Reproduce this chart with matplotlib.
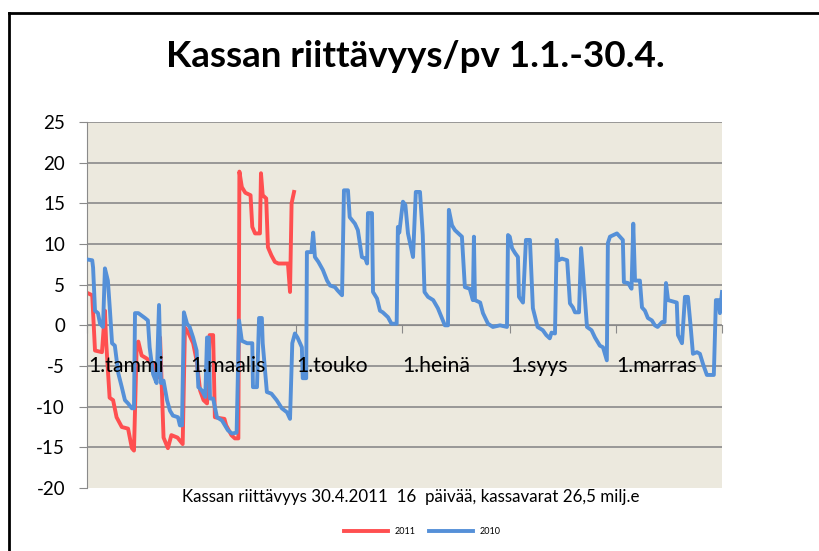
import matplotlib
matplotlib.use("Agg")
import matplotlib.pyplot as plt
from matplotlib.lines import Line2D

plt.rcParams['font.family'] = ['Lato', 'DejaVu Sans']
plt.rcParams['axes.unicode_minus'] = False

# 2011 series (day of year, value)
days_2011 = [0, 3, 4.6, 8.6, 10.3, 11, 13, 15, 17, 20, 23.6, 25.8, 27, 28.6, 29.5,
             31.4, 34.5, 36, 38, 40.8, 42, 44, 46.5, 48.5, 52, 55, 56.3, 58, 61, 63,
             65, 67, 69, 70.5, 72.5, 73.5, 76, 79, 80, 83, 85, 87, 87.6, 89, 91, 94,
             95, 96.6, 99.4, 100, 101, 103, 104, 106, 108, 110, 115.5, 116.7, 117.6, 119]
vals_2011 = [4.0, 3.7, -3.1, -3.3, 1.8, -2.0, -8.9, -9.2, -11.3, -12.5, -12.7, -15.1, -15.4, -2.2, -2.0,
             -3.7, -4.1, -4.5, -4.7, -6.4, -1.5, -13.8, -15.1, -13.5, -13.8, -14.6, -0.3, -0.8, -2.2, -4.3,
             -8.0, -9.2, -9.6, -1.2, -1.2, -11.3, -11.4, -11.5, -12.3, -13.5, -13.9, -13.9, 18.9, 17.0, 16.3, 16.0,
             12.1, 11.3, 11.3, 18.7, 16.0, 15.6, 9.6, 8.6, 7.8, 7.6, 7.6, 4.1, 15.0, 16.4]

# 2010 series (day of year, value)
days_2010 = [0, 3, 3.5, 4.6, 6.3, 7.5, 9.2, 10.3, 12, 13.2, 14.4, 16, 18, 20, 21.8, 23.6,
             25.8, 27, 27.6, 29.5, 31.4, 33.3, 35, 36, 38, 40, 41.4, 42.5, 44, 46, 47.7,
             49.4, 52.3, 53.4, 54.6, 55.7, 57.5, 59, 61, 63, 64, 66, 68, 69, 70, 70.7,
             72.5, 74.7, 77.6, 79.3, 81, 83.3, 86, 87.4, 89, 92, 95, 95.4, 97.7, 98.9,
             100.5, 101, 103.4, 106, 109, 112, 115, 116.7, 118, 119.5, 121, 123.5, 124,
             126, 126.4, 129, 130, 131, 133, 135.6, 138, 139.7, 142.5, 144, 146.6, 147.7,
             150, 151, 154, 155.7, 158, 160, 161, 161.5, 163.8, 164.4, 166.7, 168.4, 170,
             173, 175, 178, 178.7, 179.5, 181.6, 183, 184.5, 186.8, 187.4, 189, 191.4,
             193, 194, 196, 199, 201.7, 204, 205.7, 207.5, 208, 209.8, 211.5, 215.5,
             217.2, 220, 221.8, 222.4, 223, 226, 227.6, 230.5, 233.3, 237.4, 241.4, 242,
             243, 244.3, 246, 247.7, 248.3, 250.6, 252.3, 254.6, 256.3, 259, 262, 264,
             266, 267, 269, 270, 271, 273, 276, 277.6, 279.3, 280.5, 282.8, 284, 285,
             287.4, 290, 292, 294.8, 296.6, 298.8, 299.4, 300.6, 304.6, 306.3, 308, 308.6,
             311, 313, 314, 315, 317.8, 319, 320.7, 322.4, 324.7, 326.4, 328, 330.5, 332,
             332.8, 334, 339, 339.7, 342, 343.7, 345.4, 347, 348.3, 350.6, 352.3, 354,
             356.3, 360.3, 361.5, 363, 363.8, 365]
vals_2010 = [8.1, 8.0, 7.1, 1.8, 1.5, 0.2, -0.2, 7.0, 5.5, 1.8, -2.2, -2.5, -5.9, -7.6, -9.2, -9.6,
             -10.2, -10.2, 1.5, 1.5, 1.2, 0.9, 0.6, -2.7, -6.0, -7.1, 2.5, -7.1, -6.8, -9.2, -10.5,
             -11.1, -11.3, -12.3, -12.3, 1.6, 0.2, -0.2, -1.5, -3.1, -7.6, -8.0, -8.8, -1.5, -1.5, -9.0,
             -9.0, -11.3, -11.7, -12.3, -12.9, -13.3, -13.2, 0.6, -1.9, -2.2, -2.2, -7.6, -7.6, 0.9,
             0.9, -2.2, -8.2, -8.4, -9.2, -10.2, -10.7, -11.5, -2.2, -1.0, -1.5, -2.7, -6.5,
             -6.5, 9.0, 9.0, 11.4, 8.4, 7.8, 6.8, 5.5, 4.9, 4.7, 4.3, 3.7, 16.6,
             16.6, 13.3, 12.5, 11.7, 8.4, 8.2, 7.6, 13.8, 13.8, 4.1, 3.3, 1.8, 1.6,
             1.0, 0.2, 0.2, 12.1, 11.4, 15.2, 14.8, 11.3, 9.0, 8.4, 16.4, 16.4,
             11.1, 4.1, 3.5, 3.1, 2.1, 0.9, 0.0, 0.0, 14.2, 12.3, 11.7, 10.9,
             4.7, 4.5, 3.1, 10.9, 3.1, 2.8, 1.5, 0.2, -0.2, 0.0, -0.2, 11.1,
             10.9, 9.5, 8.9, 8.4, 3.5, 2.8, 10.5, 10.5, 2.1, -0.2, -0.6, -1.2,
             -1.6, -0.9, -1.0, 10.5, 8.0, 8.2, 8.0, 2.7, 2.2, 1.6, 1.6, 9.5, 6.8,
             -0.2, -0.6, -1.5, -2.5, -2.7, -4.3, 10.1, 10.9, 11.3, 10.9, 10.5, 5.3,
             5.2, 4.5, 12.5, 5.5, 5.5, 2.2, 1.8, 0.9, 0.6, 0.0, -0.2, 0.4, 0.4,
             5.2, 3.1, 2.8, -1.2, -2.2, 3.5, 3.5, -0.2, -3.5, -3.3, -3.5, -4.7,
             -6.1, -6.1, 3.1, 3.1, 1.5, 4.1]

month_days = [0, 59, 120, 181, 243, 304, 365]
month_labels = ['1.tammi', '1.maalis', '1.touko', '1.heinä', '1.syys', '1.marras', '']
y_ticks = [-20, -15, -10, -5, 0, 5, 10, 15, 20, 25]

red = '#FF4F50'
blue = '#5590D8'
gray = '#8A8A8A'

fig = plt.figure(figsize=(8.2, 5.51), dpi=100)
ax = fig.add_axes([87 / 820, 63 / 551, 635 / 820, 366 / 551])
ax.set_facecolor('#ECE9DE')

l1, = ax.plot(days_2011, vals_2011, color=red, lw=2.8, solid_joinstyle='round', zorder=2)
l2, = ax.plot(days_2010, vals_2010, color=blue, lw=2.8, solid_joinstyle='round', zorder=3)

ax.set_xlim(0, 365)
ax.set_ylim(-20, 25)
ax.set_yticks(y_ticks)
ax.set_xticks(month_days)
ax.set_xticklabels([])

# month labels sit next to the axis line, drawn above the series like in Excel
for d, lab in zip(month_days, month_labels):
    ax.text(d + 0.5, -5, lab, ha='left', va='center', fontsize=15.3, zorder=5)

ax.yaxis.grid(True, color=gray, lw=1.2)
ax.set_axisbelow(True)
ax.yaxis.get_gridlines()[0].set_visible(False)

for s in ['top', 'right']:
    ax.spines[s].set_visible(False)
ax.spines['left'].set_color(gray)
ax.spines['bottom'].set_color(gray)
ax.spines['bottom'].set_position(('data', 0))
ax.spines['bottom'].set_zorder(1)

ax.tick_params(axis='y', direction='out', length=5.8, color=gray, labelsize=13.5, pad=10)
ax.tick_params(axis='x', direction='out', length=5.8, color=gray)

fig.text(415 / 820, 1 - 67 / 551, 'Kassan riittävyys/pv 1.1.-30.4.', ha='center',
         va='baseline', fontsize=26.5, fontweight='bold')
fig.text(411 / 820, 1 - 502 / 551,
         'Kassan riittävyys 30.4.2011  16  päivää, kassavarat 26,5 milj.e',
         ha='center', va='baseline', fontsize=12.2)

fig.legend([l1, l2], ['2011', '2010'], loc='center', bbox_to_anchor=(422 / 820, 1 - 532 / 551),
           ncol=2, frameon=False, fontsize=6.5, handlelength=4.9, handletextpad=0.7,
           columnspacing=1.5)

# chart frame (left and top edges)
fig.add_artist(Line2D([9.5 / 820, 9.5 / 820], [0, 1 - 12.5 / 551], transform=fig.transFigure,
                      color='black', lw=2))
fig.add_artist(Line2D([9.5 / 820, 1], [1 - 12.5 / 551, 1 - 12.5 / 551], transform=fig.transFigure,
                      color='black', lw=2))

fig.savefig('out.png', dpi=100)
